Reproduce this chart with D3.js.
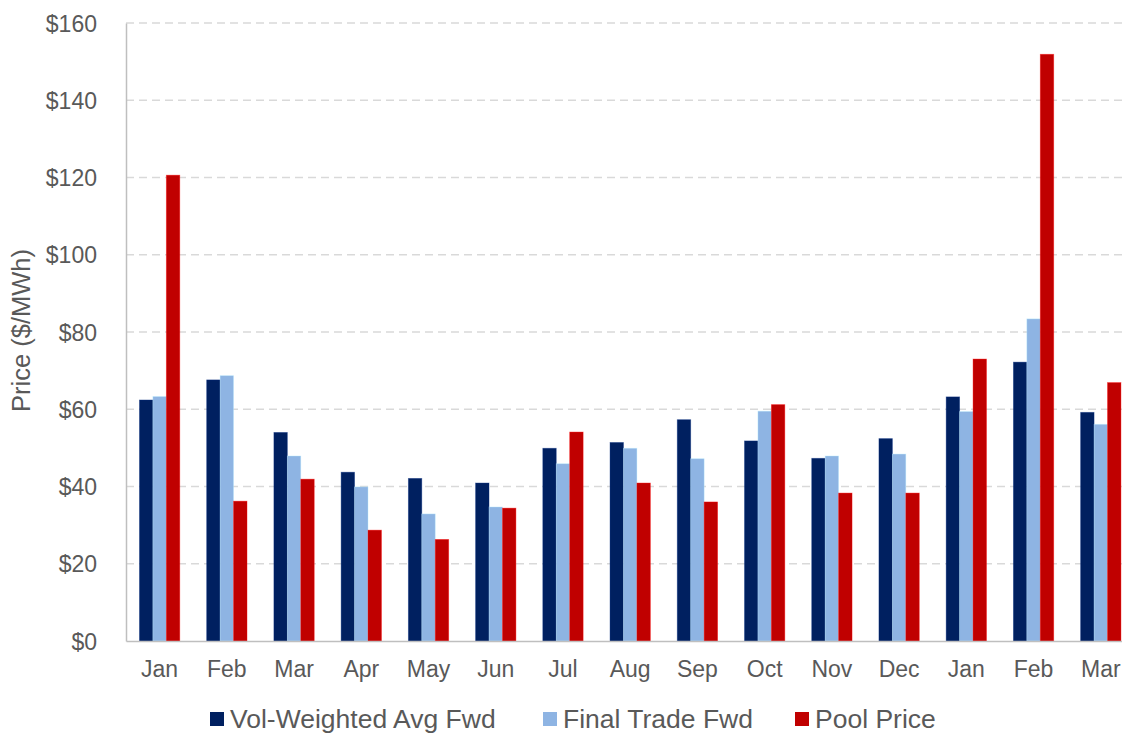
<!DOCTYPE html>
<html>
<head>
<meta charset="utf-8">
<script src="https://cdn.jsdelivr.net/npm/d3@7"></script>
<style>
  html, body { margin: 0; padding: 0; background: #fff; }
  svg { display: block; font-family: "Liberation Sans", Arial, sans-serif; }
</style>
</head>
<body>
<svg id="chart" width="1122" height="735"></svg>
<script>
// Monthly price data ($/MWh)
const months = ["Jan", "Feb", "Mar", "Apr", "May", "Jun", "Jul", "Aug", "Sep", "Oct", "Nov", "Dec", "Jan", "Feb", "Mar"];
const volWeightedAvgFwd = [62.4, 67.6, 54.0, 43.7, 42.1, 40.9, 49.9, 51.4, 57.3, 51.8, 47.3, 52.4, 63.2, 72.2, 59.2];
const finalTradeFwd     = [63.3, 68.7, 47.9, 39.9, 32.9, 34.7, 45.9, 49.9, 47.2, 59.5, 47.9, 48.4, 59.4, 83.4, 56.1];
const poolPrice         = [120.6, 36.2, 41.9, 28.7, 26.3, 34.4, 54.1, 40.9, 36.0, 61.2, 38.3, 38.3, 73.0, 151.9, 66.9];
const yTicks = [0, 20, 40, 60, 80, 100, 120, 140, 160];
const seriesNames = ["Vol-Weighted Avg Fwd", "Final Trade Fwd", "Pool Price"];

const seriesValues = [volWeightedAvgFwd, finalTradeFwd, poolPrice];
const colors = ["#002060", "#8EB4E3", "#C00000"];
const textColor = "#595959";

const svg = d3.select("#chart");

const plot = { left: 126, right: 1134.4, top: 23, bottom: 641 };

const x = d3.scaleBand()
  .domain(d3.range(months.length))
  .range([plot.left, plot.right])
  .paddingInner(0.4)
  .paddingOuter(0.2);

const xSeries = d3.scaleBand()
  .domain(d3.range(seriesNames.length))
  .range([0, x.bandwidth()])
  .padding(0);

const y = d3.scaleLinear()
  .domain([0, 160])
  .range([plot.bottom, plot.top]);

// Horizontal dashed gridlines
svg.append("g")
  .selectAll("line")
  .data(yTicks.filter(d => d > 0))
  .join("line")
  .attr("x1", plot.left)
  .attr("x2", plot.right)
  .attr("y1", d => y(d))
  .attr("y2", d => y(d))
  .attr("stroke", "#D9D9D9")
  .attr("stroke-width", 1.3)
  .attr("stroke-dasharray", "8,5");

// Bars
const groups = svg.append("g")
  .selectAll("g")
  .data(months.map((m, i) => i))
  .join("g")
  .attr("transform", i => `translate(${x(i)},0)`);

groups.selectAll("rect")
  .data(i => seriesValues.map((vals, s) => ({ s, v: vals[i] })))
  .join("rect")
  .attr("x", d => xSeries(d.s))
  .attr("width", xSeries.bandwidth())
  .attr("y", d => y(d.v))
  .attr("height", d => y(0) - y(d.v))
  .attr("fill", d => colors[d.s])
  .attr("stroke", d => d3.color(colors[d.s]).brighter(0.8))
  .attr("stroke-opacity", 0.45)
  .attr("stroke-width", 0.8);

// Y axis
const yAxis = svg.append("g")
  .attr("transform", `translate(${plot.left},0)`)
  .call(d3.axisLeft(y).tickValues(yTicks).tickSize(0).tickPadding(29).tickFormat(d => "$" + d));
yAxis.select(".domain").attr("stroke", "#BFBFBF").attr("stroke-width", 1.5);
yAxis.selectAll("text")
  .attr("fill", textColor)
  .style("font-size", "23px")
  .attr("dy", "0.35em");

// X axis
const xAxis = svg.append("g")
  .attr("transform", `translate(0,${plot.bottom})`)
  .call(d3.axisBottom(x).tickSize(0).tickPadding(20).tickFormat(i => months[i]));
xAxis.select(".domain").attr("stroke", "#BFBFBF").attr("stroke-width", 1.5);
xAxis.selectAll("text")
  .attr("fill", textColor)
  .style("font-size", "23px");

// Y axis title
svg.append("text")
  .attr("transform", `translate(30,330.5) rotate(-90)`)
  .attr("text-anchor", "middle")
  .attr("fill", textColor)
  .style("font-size", "25.5px")
  .text("Price ($/MWh)");

// Legend
const legendX = [210, 543, 795];
const legend = svg.append("g")
  .selectAll("g")
  .data(seriesNames)
  .join("g")
  .attr("transform", (d, i) => `translate(${legendX[i]},0)`);
legend.append("rect")
  .attr("x", 0)
  .attr("y", 712)
  .attr("width", 14)
  .attr("height", 14)
  .attr("fill", (d, i) => colors[i]);
legend.append("text")
  .attr("x", 20)
  .attr("y", 728)
  .attr("fill", textColor)
  .style("font-size", "26.5px")
  .text(d => d);
</script>
</body>
</html>
